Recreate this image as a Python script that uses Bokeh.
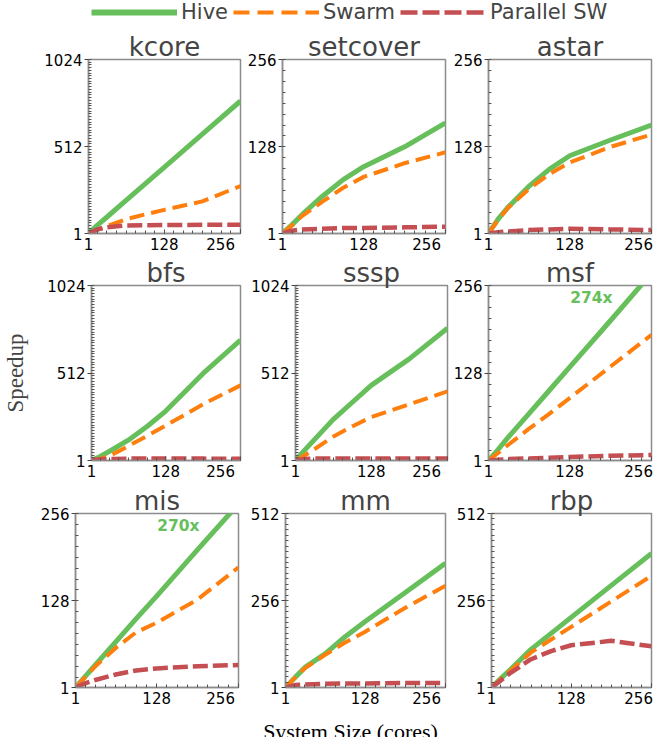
from bokeh.plotting import figure
from bokeh.layouts import column, row
from bokeh.models import Range1d, FixedTicker, Label, Legend, LegendItem
from bokeh.embed import file_html
from bokeh.resources import INLINE

# ---------------- data ----------------
cores = [1, 16, 32, 64, 96, 128, 192, 256]

x_ticks = [1, 128, 256]

hive_kcore = [1, 50, 98, 196, 293, 390, 585, 780]
swarm_kcore = [1, 22, 45, 85, 113, 140, 190, 280]
psw_kcore = [1, 25, 38, 48, 50, 51, 52, 52]

hive_setcover = [1, 14, 29, 56, 80, 99, 128, 163]
swarm_setcover = [1, 13, 27, 48, 68, 84, 104, 120]
psw_setcover = [1, 5, 7, 8, 9, 9, 10, 11]

hive_astar = [1, 22, 40, 70, 95, 115, 138, 160]
swarm_astar = [1, 21, 39, 66, 88, 105, 128, 146]
psw_astar = [1, 3, 4, 6, 7, 8, 7, 6]

hive_bfs = [1, 25, 55, 120, 200, 290, 510, 705]
swarm_bfs = [1, 12, 28, 85, 145, 205, 330, 440]
psw_bfs = [1, 8, 10, 12, 12, 12, 12, 11]

hive_sssp = [1, 60, 120, 240, 340, 440, 595, 775]
swarm_sssp = [1, 30, 65, 140, 200, 255, 330, 405]
psw_sssp = [1, 10, 12, 13, 13, 12, 12, 12]

hive_msf = [1, 17, 35, 69, 103, 137, 205, 274]
swarm_msf = [1, 12, 24, 47, 69, 92, 138, 184]
psw_msf = [1, 2, 3, 4, 5, 6, 8, 9]

hive_mis = [1, 17, 34, 68, 102, 135, 203, 270]
swarm_mis = [1, 16, 32, 59, 82, 96, 130, 177]
psw_mis = [1, 7, 12, 20, 26, 29, 32, 34]

hive_mm = [1, 30, 60, 100, 150, 195, 280, 366]
swarm_mm = [1, 30, 58, 97, 133, 165, 235, 300]
psw_mm = [1, 8, 10, 12, 13, 13, 14, 14]

hive_rbp = [1, 28, 55, 113, 160, 207, 301, 395]
swarm_rbp = [1, 26, 52, 104, 142, 179, 254, 329]
psw_rbp = [1, 22, 45, 84, 108, 125, 138, 122]

titles = ["kcore", "setcover", "astar", "bfs", "sssp", "msf", "mis", "mm", "rbp"]
y_max = [1024, 256, 256, 1024, 1024, 256, 256, 512, 512]
series = [
    (hive_kcore, swarm_kcore, psw_kcore),
    (hive_setcover, swarm_setcover, psw_setcover),
    (hive_astar, swarm_astar, psw_astar),
    (hive_bfs, swarm_bfs, psw_bfs),
    (hive_sssp, swarm_sssp, psw_sssp),
    (hive_msf, swarm_msf, psw_msf),
    (hive_mis, swarm_mis, psw_mis),
    (hive_mm, swarm_mm, psw_mm),
    (hive_rbp, swarm_rbp, psw_rbp),
]
legend_labels = ["Hive", "Swarm", "Parallel SW"]

# ---------------- style ----------------
GREEN = "#67bf5c"
ORANGE = "#ff7f0e"
RED = "#c44e52"
FRAME = "#8c8c8c"
TICK_FONT = "DejaVu Sans"
SERIF = "Liberation Serif"
NBSP = "\u00a0"

# (border_left, frame_width, border_right) per panel
panel_geom = [
    (88, 152, 4), (38, 163, 5), (37, 164, 11),
    (88, 152, 4), (51, 152, 3), (38, 163, 11),
    (75, 163, 6), (41, 160, 5), (41, 160, 11),
]
# (border_top, frame_height, border_bottom) per row
row_geom = [(35, 175, 22), (29, 176, 22), (30, 175, 22)]


def make_panel(i):
    bl, fw, br = panel_geom[i]
    bt, fh, bb = row_geom[i // 3]
    ym = y_max[i]
    hive, swarm, psw = series[i]
    p = figure(width=bl + fw + br, height=bt + fh + bb,
               min_border_left=bl, min_border_right=br,
               min_border_top=bt, min_border_bottom=bb,
               x_range=Range1d(1, 256), y_range=Range1d(1, ym),
               toolbar_location=None, output_backend="svg", title=titles[i])
    p.title.text_font = TICK_FONT
    p.title.text_font_size = "26px"
    p.title.text_font_style = "normal"
    p.title.align = "center"
    p.title.standoff = -5
    p.xgrid.visible = False
    p.ygrid.visible = False
    p.outline_line_color = FRAME
    p.outline_line_width = 1.5
    p.background_fill_color = "white"
    p.border_fill_color = "white"

    p.xaxis.ticker = FixedTicker(ticks=x_ticks, minor_ticks=list(range(16, 257, 16)))
    p.yaxis.ticker = FixedTicker(ticks=[1, ym // 2, ym], minor_ticks=list(range(16, ym + 1, 16)))
    for ax in (p.xaxis[0], p.yaxis[0]):
        ax.axis_line_color = FRAME
        ax.axis_line_width = 1.5
        ax.major_label_text_font = TICK_FONT
        ax.major_label_text_font_size = "15px"
        ax.major_label_text_color = "black"
        ax.major_tick_line_color = "#444444"
        ax.minor_tick_line_color = "#555555"
        ax.minor_tick_in = 3
        ax.minor_tick_out = 0
    p.yaxis.major_tick_out = 4
    p.yaxis.major_tick_in = 0
    p.yaxis.major_label_standoff = 2
    p.xaxis.major_tick_out = 0
    p.xaxis.major_tick_in = 4
    p.xaxis.major_label_standoff = 2

    # last x tick label pushed left so that it ends near the frame edge
    p.xaxis.major_label_overrides = {256: "256" + NBSP * 2}

    p.line(cores, hive, line_color=GREEN, line_width=5)
    p.line(cores, swarm, line_color=ORANGE, line_width=4, line_dash="15 7")
    p.line(cores, psw, line_color=RED, line_width=4.5, line_dash="15 5")

    if hive[-1] > ym:
        p.add_layout(Label(x=162, y=ym, text=f"{hive[-1]}x", text_align="center",
                           text_baseline="top", y_offset=-3, text_font=TICK_FONT,
                           text_font_size="15.5px", text_font_style="bold", text_color=GREEN))

    if titles[i] == "bfs":
        p.yaxis.axis_label = "Speedup"
        p.yaxis.axis_label_text_font = SERIF
        p.yaxis.axis_label_text_font_size = "23px"
        p.yaxis.axis_label_text_font_style = "normal"
        p.yaxis.axis_label_standoff = 16
    return p


panels = [make_panel(i) for i in range(9)]

# ---------------- legend strip ----------------
lg = figure(width=662, height=24, min_border=0, x_axis_location=None,
            y_axis_location=None, x_range=Range1d(0, 1), y_range=Range1d(0, 1),
            toolbar_location=None, output_backend="svg")
lg.xgrid.visible = False
lg.ygrid.visible = False
lg.outline_line_color = None
r_h = lg.line(x=[0], y=[0], line_color=GREEN, line_width=6)
r_s = lg.line(x=[0], y=[0], line_color=ORANGE, line_width=4, line_dash="16 8")
r_p = lg.line(x=[0], y=[0], line_color=RED, line_width=4.5, line_dash="17 5")
legend = Legend(items=[LegendItem(label=legend_labels[0], renderers=[r_h]),
                       LegendItem(label=legend_labels[1], renderers=[r_s]),
                       LegendItem(label=legend_labels[2], renderers=[r_p])],
                orientation="horizontal", location=(91, 0), glyph_width=86, glyph_height=18,
                label_height=18, label_standoff=4, spacing=5, padding=0, margin=0,
                border_line_alpha=0, background_fill_alpha=0,
                label_text_font=TICK_FONT, label_text_font_size="21px")
lg.add_layout(legend, "center")

# ---------------- x label strip ----------------
xl = figure(width=662, height=27, min_border=0, x_axis_location=None,
            y_axis_location=None, x_range=Range1d(0, 662), y_range=Range1d(0, 27),
            toolbar_location=None, output_backend="svg")
xl.xgrid.visible = False
xl.ygrid.visible = False
xl.outline_line_color = None
xl.add_layout(Label(x=350, y=6, text="System Size (cores)", text_align="center",
                    text_baseline="alphabetic", text_font=SERIF, text_font_size="22px",
                    text_color="black"))

root = column(lg, row(*panels[0:3]), row(*panels[3:6]), row(*panels[6:9]), xl)

with open("out.html", "w") as f:
    f.write(file_html(root, INLINE))
